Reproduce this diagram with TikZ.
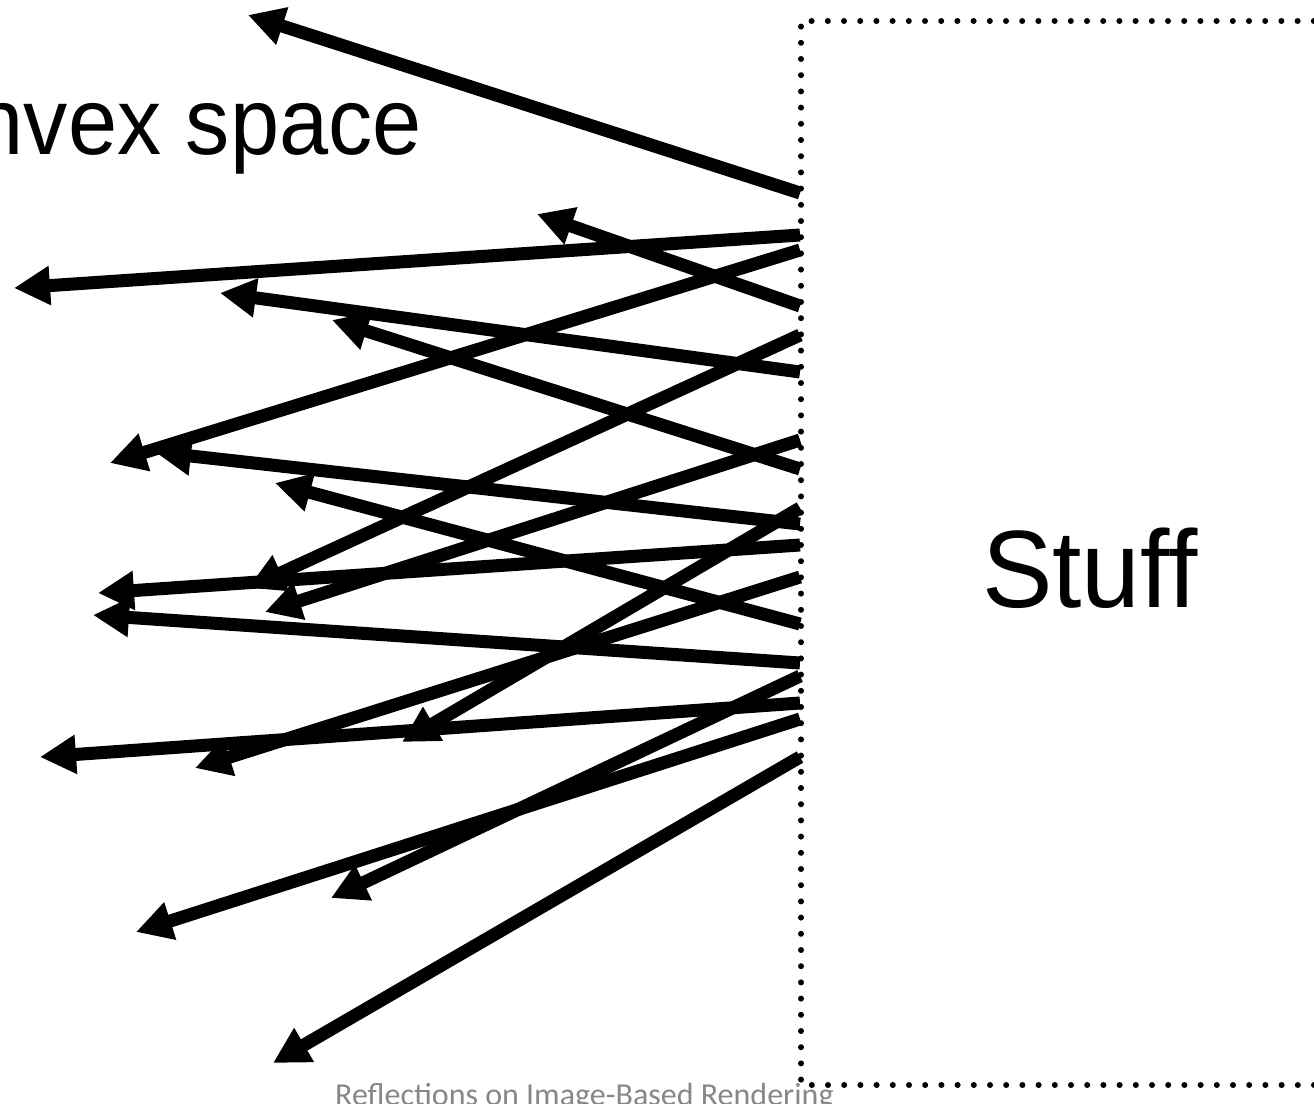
\documentclass[tikz,border=0pt]{standalone}
\usepackage{fontspec}
\setmainfont{Liberation Sans}
\newfontfamily\footfont{Carlito}
\usetikzlibrary{arrows.meta}
\definecolor{footgrey}{RGB}{135,135,135}
\tikzset{
  ray/.style={line width=13pt, -{Triangle[length=36pt,width=37pt]}},
  dotline/.style={line width=6pt, line cap=round, dash pattern=on 0pt off 16.2pt},
}
\begin{document}
\begin{tikzpicture}[x=1pt,y=-1pt]
\useasboundingbox (0,0) rectangle (1314,1103);
\clip (0,0) rectangle (1314,1103);
% dotted box
\draw[dotline] (1330,21) -- (801,21) -- (801,1085) -- (1330,1085);
% labels
\node[inner sep=0pt, anchor=base east, xscale=0.93, transform shape, font=\fontsize{95}{105}\selectfont] (cs) at (422,154) {Convex space};
\node[inner sep=0pt, anchor=base west, xscale=0.96, transform shape, font=\fontsize{110}{120}\selectfont] (stuff) at (982,607) {Stuff};
\node[inner sep=0pt, anchor=base west, text=footgrey, font=\footfont\fontsize{32}{34}\selectfont] (foot) at (335,1105) {Reflections on Image-Based Rendering};
% start points
\coordinate (s1) at (800,193);
\coordinate (s2) at (800,235);
\coordinate (s3) at (800,250);
\coordinate (s4) at (800,306);
\coordinate (s5) at (800,335);
\coordinate (s6) at (800,372);
\coordinate (s7) at (800,440);
\coordinate (s8) at (800,469);
\coordinate (s9) at (800,508);
\coordinate (s10) at (800,524);
\coordinate (s11) at (800,545);
\coordinate (s12) at (800,577);
\coordinate (s13) at (800,624);
\coordinate (s14) at (800,663);
\coordinate (s15) at (800,676);
\coordinate (s16) at (800,703);
\coordinate (s17) at (800,719);
\coordinate (s18) at (800,757);
% tips
\coordinate (t1) at (248,15);
\coordinate (t2) at (14,288);
\coordinate (t3) at (110,463);
\coordinate (t4) at (537,214);
\coordinate (t5) at (248,588);
\coordinate (t6) at (220,293);
\coordinate (t7) at (265,612);
\coordinate (t8) at (332,320);
\coordinate (t9) at (402,742);
\coordinate (t10) at (155,452);
\coordinate (t11) at (98,593);
\coordinate (t12) at (195,768);
\coordinate (t13) at (275,483);
\coordinate (t14) at (93,615);
\coordinate (t15) at (331,898);
\coordinate (t16) at (40,757);
\coordinate (t17) at (136,932);
\coordinate (t18) at (273,1063);
\foreach \i in {1,...,18} { \draw[ray] (s\i) -- (t\i); }
\end{tikzpicture}
\end{document}
